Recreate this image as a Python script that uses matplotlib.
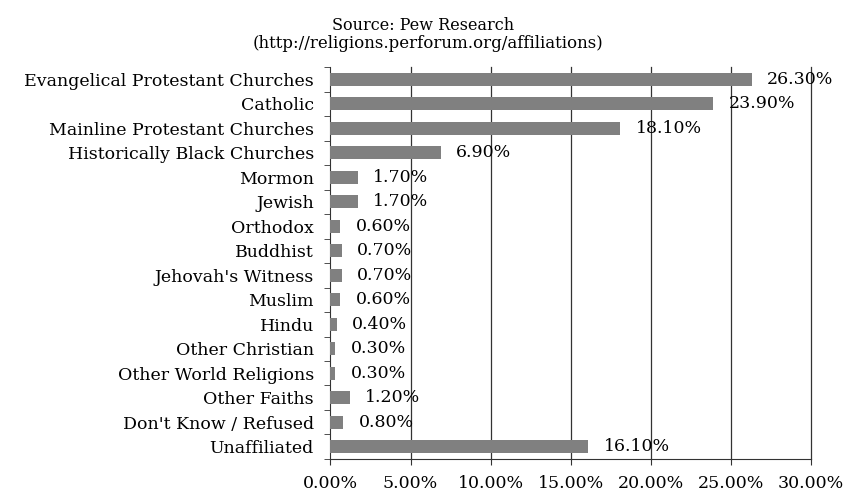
import numpy as np
from matplotlib import pyplot as plt
from matplotlib.ticker import FixedLocator

categories = [
    "Evangelical Protestant Churches",
    "Catholic",
    "Mainline Protestant Churches",
    "Historically Black Churches",
    "Mormon",
    "Jewish",
    "Orthodox",
    "Buddhist",
    "Jehovah's Witness",
    "Muslim",
    "Hindu",
    "Other Christian",
    "Other World Religions",
    "Other Faiths",
    "Don't Know / Refused",
    "Unaffiliated",
]
shares = [26.3, 23.9, 18.1, 6.9, 1.7, 1.7, 0.6, 0.7, 0.7, 0.6, 0.4, 0.3, 0.3, 1.2, 0.8, 16.1]
xticks = [0, 5, 10, 15, 20, 25, 30]

plt.rcParams["font.family"] = ["DejaVu Serif"]
fs = 12.5

fig = plt.figure(figsize=(8.47, 4.93), dpi=100)
ax = fig.add_axes([0.3902, 0.069, 0.5673, 0.795])

y = np.arange(len(categories))
ax.barh(y, shares, height=0.52, color="#808080", zorder=3)

for yi, v in zip(y, shares):
    ax.annotate("%.2f%%" % v, (v, yi), xytext=(11, 0), textcoords="offset points",
                va="center", ha="left", fontsize=fs, zorder=4)

ax.set_xlim(0, 30)
ax.set_ylim(len(categories) - 0.5, -0.5)
ax.set_xticks(xticks)
ax.set_xticklabels(["%.2f%%" % t for t in xticks], fontsize=fs)
ax.set_yticks(y)
ax.set_yticklabels(categories, fontsize=fs)
ax.tick_params(axis="y", which="major", length=0, pad=12)
ax.yaxis.set_minor_locator(FixedLocator(np.arange(-0.5, len(categories), 1)))
ax.tick_params(axis="y", which="minor", length=4.5, color="#333333")
ax.tick_params(axis="x", length=4.5, color="#333333", pad=7)

# vertical gridlines, the last one drawn unclipped on the right edge
for t in xticks[1:]:
    ax.axvline(t, color="#333333", linewidth=0.9, zorder=1, clip_on=False)
for s in ["top", "right"]:
    ax.spines[s].set_visible(False)
for s in ["left", "bottom"]:
    ax.spines[s].set_color("#333333")

fig.text(0.5, 1 - 25 / 493, "Source: Pew Research", ha="center", va="center", fontsize=11.5)
fig.text(0.505, 1 - 44 / 493, "(http://religions.perforum.org/affiliations)",
         ha="center", va="center", fontsize=12)

fig.savefig("out.png", dpi=100)
